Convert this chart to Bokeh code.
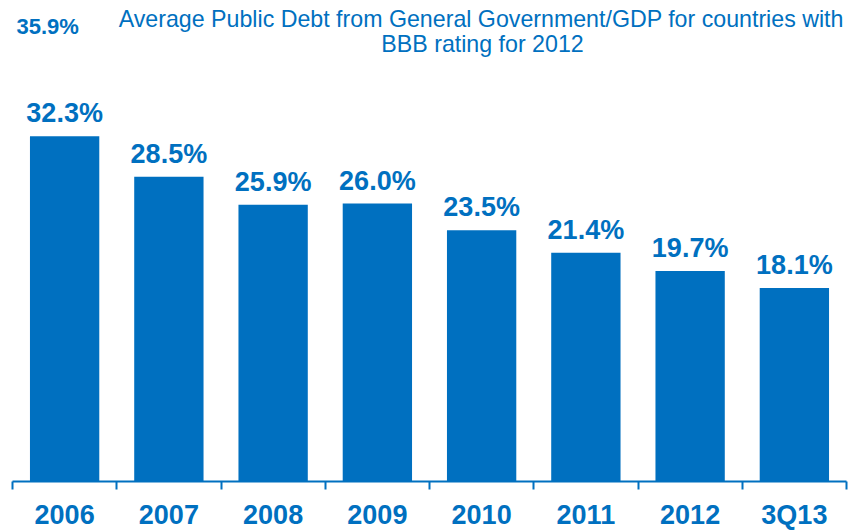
from bokeh.plotting import figure
from bokeh.models import ColumnDataSource, FixedTicker, Range1d, Label, LabelSet
from bokeh.core.properties import value
from bokeh.embed import file_html
from bokeh.resources import INLINE

categories = ["2006", "2007", "2008", "2009", "2010", "2011", "2012", "3Q13"]
values = [32.3, 28.5, 25.9, 26.0, 23.5, 21.4, 19.7, 18.1]
value_labels = ["32.3%", "28.5%", "25.9%", "26.0%", "23.5%", "21.4%", "19.7%", "18.1%"]
reference_value = "35.9%"
title_line1 = "Average Public Debt from General  Government/GDP for countries with"
title_line2 = "BBB rating for 2012"

BLUE = "#0070C0"
FONT = "Liberation Sans"

idx = list(range(len(categories)))
src = ColumnDataSource(dict(x=idx, top=values, lab=value_labels))

p = figure(width=865, height=532, output_backend="svg", toolbar_location=None,
           x_range=Range1d(-0.5, len(categories) - 0.5), y_range=Range1d(0, 45),
           min_border_left=12, min_border_right=19, min_border_top=0, min_border_bottom=0)
p.outline_line_color = None
p.background_fill_color = "white"
p.border_fill_color = "white"
p.grid.visible = False
p.yaxis.visible = False

p.vbar(x="x", top="top", width=0.665, source=src, fill_color=BLUE, line_color=None)

labels = LabelSet(x="x", y="top", text="lab", source=src, y_offset=14,
                  text_align="center", text_baseline="alphabetic",
                  text_font=value(FONT), text_font_style="bold", text_font_size="27px",
                  text_color=BLUE)
p.add_layout(labels)

ax = p.xaxis[0]
ax.ticker = FixedTicker(ticks=idx, minor_ticks=[i - 0.5 for i in range(len(categories) + 1)])
ax.major_label_overrides = {i: c for i, c in zip(idx, categories)}
ax.axis_line_color = BLUE
ax.axis_line_width = 2
ax.major_tick_line_color = None
ax.major_tick_in = 0
ax.major_tick_out = 0
ax.minor_tick_in = 0
ax.minor_tick_out = 8
ax.minor_tick_line_color = BLUE
ax.minor_tick_line_width = 2
ax.major_label_standoff = 10
ax.major_label_text_font = FONT
ax.major_label_text_font_style = "bold"
ax.major_label_text_font_size = "27px"
ax.major_label_text_color = BLUE

p.add_layout(Label(x=472, y=463, x_units="screen", y_units="screen", text=title_line1,
                   text_align="center", text_baseline="alphabetic", text_font=FONT,
                   text_font_size="23.2px", text_color=BLUE))
p.add_layout(Label(x=470, y=438, x_units="screen", y_units="screen", text=title_line2,
                   text_align="center", text_baseline="alphabetic", text_font=FONT,
                   text_font_size="23.2px", text_color=BLUE))
p.add_layout(Label(x=4, y=455, x_units="screen", y_units="screen", text=reference_value,
                   text_align="left", text_baseline="alphabetic", text_font=FONT,
                   text_font_style="bold", text_font_size="22px", text_color=BLUE))

open("out.html", "w").write(file_html(p, INLINE))
